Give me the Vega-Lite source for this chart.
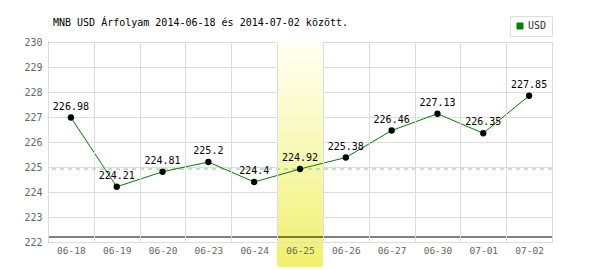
{
  "$schema": "https://vega.github.io/schema/vega-lite/v6.json",
  "autosize": "none",
  "width": 504,
  "height": 200,
  "padding": {"left": 48, "top": 42, "right": 48, "bottom": 28},
  "background": "white",
  "title": {
    "text": "MNB USD Árfolyam 2014-06-18 és 2014-07-02 között.",
    "anchor": "start",
    "frame": "group",
    "dx": 5,
    "offset": -17,
    "baseline": "middle",
    "font": "DejaVu Sans Mono",
    "fontSize": 10,
    "fontWeight": "normal",
    "color": "#000000"
  },
  "config": {
    "view": {"stroke": "#dddddd", "strokeWidth": 1},
    "font": "DejaVu Sans Mono",
    "axisY": {
      "title": null,
      "grid": true,
      "gridColor": "#dddddd",
      "ticks": false,
      "domain": true,
      "domainColor": "#000000",
      "labelFont": "DejaVu Sans Mono",
      "labelFontSize": 10,
      "labelColor": "#666666",
      "labelPadding": 6,
      "labelFlush": false,
      "labelOverlap": false
    }
  },
  "datasets": {
    "rates": [
      {"date": "06-18", "value": 226.98, "currency": "USD"},
      {"date": "06-19", "value": 224.21, "currency": "USD"},
      {"date": "06-20", "value": 224.81, "currency": "USD"},
      {"date": "06-23", "value": 225.2, "currency": "USD"},
      {"date": "06-24", "value": 224.4, "currency": "USD"},
      {"date": "06-25", "value": 224.92, "currency": "USD"},
      {"date": "06-26", "value": 225.38, "currency": "USD"},
      {"date": "06-27", "value": 226.46, "currency": "USD"},
      {"date": "06-30", "value": 227.13, "currency": "USD"},
      {"date": "07-01", "value": 226.35, "currency": "USD"},
      {"date": "07-02", "value": 227.85, "currency": "USD"}
    ],
    "highlight": [
      {"date": "06-25", "value": 224.92}
    ]
  },
  "layer": [
    {
      "data": {"name": "highlight"},
      "mark": {
        "type": "rect",
        "clip": false,
        "fill": {
          "x1": 0, "y1": 0, "x2": 0, "y2": 1,
          "gradient": "linear",
          "stops": [
            {"offset": 0, "color": "#fffff2"},
            {"offset": 0.5, "color": "#f8f8b4"},
            {"offset": 1, "color": "#f0f06c"}
          ]
        }
      },
      "encoding": {
        "x": {
          "field": "date",
          "type": "ordinal",
          "sort": null,
          "scale": {"domain": ["06-18","06-19","06-20","06-23","06-24","06-25","06-26","06-27","06-30","07-01","07-02"], "paddingInner": 0, "paddingOuter": 0},
          "axis": {
            "title": null,
            "grid": true,
            "gridColor": "#dddddd",
            "tickBand": "extent",
            "ticks": false,
            "domain": true,
            "domainColor": "#dddddd",
            "labelAngle": 0,
            "labelFont": "DejaVu Sans Mono",
            "labelFontSize": 9.5,
            "labelColor": "#666666",
            "labelPadding": 3,
            "labelOverlap": false,
            "zindex": 1
          }
        },
        "y": {"datum": 230, "type": "quantitative",
          "scale": {"domain": [222, 230], "nice": false, "zero": false},
          "axis": {"values": [222, 223, 224, 225, 226, 227, 228, 229, 230], "tickCount": 12, "format": "d", "labelOverlap": false}
        },
        "y2": {"datum": 221}
      }
    },
    {
      "data": {"name": "highlight"},
      "mark": {"type": "rule", "color": "#8cc48c", "strokeWidth": 1, "strokeDash": [4, 4]},
      "encoding": {
        "y": {"field": "value", "type": "quantitative"}
      }
    },
    {
      "data": {"values": [{"v": 222.2}]},
      "mark": {"type": "rule", "color": "#000000", "strokeWidth": 1},
      "encoding": {
        "y": {"field": "v", "type": "quantitative"}
      }
    },
    {
      "data": {"name": "rates"},
      "mark": {"type": "line", "strokeWidth": 1},
      "encoding": {
        "x": {"field": "date", "type": "ordinal", "sort": null},
        "y": {"field": "value", "type": "quantitative"},
        "color": {
          "field": "currency",
          "type": "nominal",
          "scale": {"domain": ["USD"], "range": ["#008000"]},
          "legend": {
            "title": null,
            "orient": "none",
            "legendX": 462,
            "legendY": -26,
            "symbolType": "square",
            "symbolSize": 36,
            "symbolFillColor": "#008000",
            "symbolStrokeColor": "#006000",
            "symbolStrokeWidth": 1,
            "labelFont": "DejaVu Sans Mono",
            "labelFontSize": 10,
            "labelColor": "#333333",
            "labelOffset": 3,
            "padding": 5,
            "strokeColor": "#dddddd",
            "fillColor": "#ffffff"
          }
        }
      }
    },
    {
      "data": {"name": "rates"},
      "mark": {"type": "point", "filled": true, "color": "#000000", "size": 40, "opacity": 1},
      "encoding": {
        "x": {"field": "date", "type": "ordinal", "sort": null},
        "y": {"field": "value", "type": "quantitative"}
      }
    },
    {
      "data": {"name": "rates"},
      "mark": {"type": "text", "dy": -11, "baseline": "middle", "align": "center", "font": "DejaVu Sans Mono", "fontSize": 10, "color": "#000000"},
      "encoding": {
        "x": {"field": "date", "type": "ordinal", "sort": null},
        "y": {"field": "value", "type": "quantitative"},
        "text": {"field": "value", "type": "quantitative"}
      }
    }
  ]
}
